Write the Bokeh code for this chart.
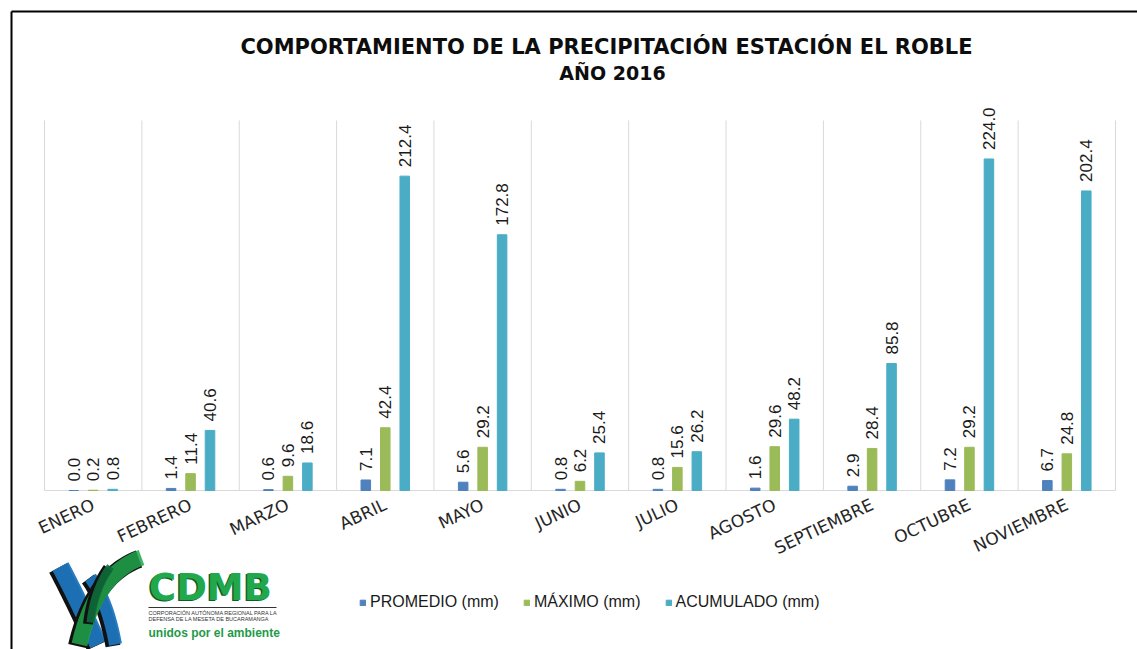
import numpy as np
from math import pi
from bokeh.plotting import figure
from bokeh.models import Range1d, ColumnDataSource, Legend, LegendItem
from bokeh.core.properties import value
from bokeh.embed import file_html
from bokeh.resources import INLINE

# ---------------- data ----------------
months = ["ENERO", "FEBRERO", "MARZO", "ABRIL", "MAYO", "JUNIO", "JULIO",
          "AGOSTO", "SEPTIEMBRE", "OCTUBRE", "NOVIEMBRE"]
promedio = [0.0, 1.4, 0.6, 7.1, 5.6, 0.8, 0.8, 1.6, 2.9, 7.2, 6.7]
maximo = [0.2, 11.4, 9.6, 42.4, 29.2, 6.2, 15.6, 29.6, 28.4, 29.2, 24.8]
acumulado = [0.8, 40.6, 18.6, 212.4, 172.8, 25.4, 26.2, 48.2, 85.8, 224.0, 202.4]
series_names = ["PROMEDIO (mm)", "MÁXIMO (mm)", "ACUMULADO (mm)"]
title_lines = ["COMPORTAMIENTO DE LA PRECIPITACIÓN ESTACIÓN EL ROBLE", "AÑO 2016"]
y_max = 250

# ---------------- layout / style ----------------
W, H = 1137, 649
PLOT_L, PLOT_R, PLOT_T, PLOT_B = 44, 1115, 120, 490     # page pixels of plot area
n = len(months)
cat_px = (PLOT_R - PLOT_L) / n
val_px = (PLOT_B - PLOT_T) / y_max
colors = ["#4f81bd", "#9bbb59", "#4bacc6"]
offsets = [-0.2, 0.0, 0.2]
SANS = "Liberation Sans"


def dx(X):
    return (X - PLOT_L) / cat_px


def dy(Y):
    return (PLOT_B - Y) / val_px


p = figure(width=W, height=H,
           x_range=Range1d(dx(0), dx(W)), y_range=Range1d(dy(H), dy(0)),
           output_backend="svg", toolbar_location=None, title=None,
           x_axis_location=None, y_axis_location=None,
           min_border=0, min_border_left=0, min_border_right=0,
           min_border_top=0, min_border_bottom=0)
p.outline_line_color = None
p.xgrid.visible = False
p.ygrid.visible = False
p.background_fill_color = "white"
p.border_fill_color = "white"

centers = [i + 0.5 for i in range(n)]

# category separators and base line
p.segment(x0=list(range(n + 1)), x1=list(range(n + 1)), y0=[0] * (n + 1), y1=[y_max] * (n + 1),
          line_color="#d9d9d9", line_width=1)
p.segment(x0=[0], x1=[n], y0=[0], y1=[0], line_color="#d9d9d9", line_width=1)

renderers = []
for vals, col, off in zip([promedio, maximo, acumulado], colors, offsets):
    src = ColumnDataSource(dict(x=[c + off for c in centers], v=vals,
                                t=[f"{v:.1f}" for v in vals]))
    r = p.vbar(x="x", top="v", width=0.098, source=src, fill_color=col, line_color=col)
    renderers.append(r)
    p.text(x="x", y="v", text="t", source=src, angle=pi / 2, text_align="left",
           text_baseline="middle", y_offset=-9, text_font=value(SANS),
           text_font_size="17px", text_color="#1a1a1a")

# category labels (rotated)
p.text(x=centers, y=[dy(503)] * n, text=months, angle=0.44, text_align="right",
       text_baseline="middle", text_font=value("DejaVu Sans"), text_font_size="17px",
       text_color="#262626")

# title
p.text(x=[dx(606)], y=[dy(46)], text=title_lines[:1], text_align="center",
       text_baseline="middle", text_font=value("DejaVu Sans"), text_font_style="bold",
       text_font_size="21px", text_color="#0d0d0d")
p.text(x=[dx(612)], y=[dy(72)], text=title_lines[1:], text_align="center",
       text_baseline="middle", text_font=value("DejaVu Sans"), text_font_style="bold",
       text_font_size="19px", text_color="#0d0d0d")

# legend
legend = Legend(items=[LegendItem(label=s, renderers=[r]) for s, r in zip(series_names, renderers)],
                orientation="horizontal", location=(359, H - 611),
                glyph_width=7, glyph_height=7, label_standoff=4, spacing=24,
                padding=0, margin=0, border_line_color=None, background_fill_alpha=0,
                label_text_font=SANS, label_text_font_size="16px",
                label_text_color="#1a1a1a", label_height=18)
p.add_layout(legend, "center")

# outer frame border (top and left)
p.segment(x0=[dx(11), dx(11)], y0=[dy(11), dy(11)], x1=[dx(W + 5), dx(11)], y1=[dy(11), dy(H + 5)],
          line_color="black", line_width=2)


# ---------------- logo (approximate drawing) ----------------
def band(P0, P1, P2, w, ox=0.0, oy=0.0):
    t = np.linspace(0, 1, 24)
    P0, P1, P2 = map(np.array, (P0, P1, P2))
    pts = ((1 - t) ** 2)[:, None] * P0 + (2 * (1 - t) * t)[:, None] * P1 + (t ** 2)[:, None] * P2
    der = (2 * (1 - t))[:, None] * (P1 - P0) + (2 * t)[:, None] * (P2 - P1)
    nrm = np.stack([-der[:, 1], der[:, 0]], axis=1)
    nrm /= np.linalg.norm(nrm, axis=1)[:, None]
    a = pts + nrm * w / 2
    b = pts - nrm * w / 2
    poly = np.vstack([a, b[::-1]])
    return [dx(x + ox) for x in poly[:, 0]], [dy(y + oy) for y in poly[:, 1]]


bands = [
    (((60, 566), (74, 592), (98, 644), 18), "#1c75bc", 0.95),
    (((90, 577), (107, 600), (115, 644), 13), "#1c75bc", 0.95),
    (((141, 557), (95, 574), (79, 644), 16), "#21a64b", 0.85),
    (((110, 566), (94, 588), (90, 622), 8), "#0e6b3a", 0.9),
]
for (P0, P1, P2, w), col, alpha in bands:
    xs, ys = band(P0, P1, P2, w + 2, ox=-2.5, oy=1.5)
    p.patch(xs, ys, fill_color="#111111", line_color=None)
    xs, ys = band(P0, P1, P2, w)
    p.patch(xs, ys, fill_color=col, fill_alpha=alpha, line_color=None)

p.text(x=[dx(147)], y=[dy(588)], text=["CDMB"], text_align="left", text_baseline="middle",
       text_font=value("DejaVu Sans"), text_font_style="bold", text_font_size="37px",
       text_color="#0b5d2e")
p.text(x=[dx(148.5)], y=[dy(587)], text=["CDMB"], text_align="left", text_baseline="middle",
       text_font=value("DejaVu Sans"), text_font_style="bold", text_font_size="37px",
       text_color="#22a84a")
p.segment(x0=[dx(148)], x1=[dx(276)], y0=[dy(607)], y1=[dy(607)], line_color="#333333", line_width=1)
p.text(x=[dx(148), dx(148)], y=[dy(612), dy(618)],
       text=["CORPORACIÓN AUTÓNOMA REGIONAL PARA LA", "DEFENSA DE LA MESETA DE BUCARAMANGA"],
       text_align="left", text_baseline="middle", text_font=value(SANS),
       text_font_size="5.5px", text_color="#333333")
p.text(x=[dx(148)], y=[dy(632)], text=["unidos por el ambiente"], text_align="left",
       text_baseline="middle", text_font=value(SANS), text_font_style="bold",
       text_font_size="12px", text_color="#1f9a48")

open("out.html", "w").write(file_html(p, INLINE))
